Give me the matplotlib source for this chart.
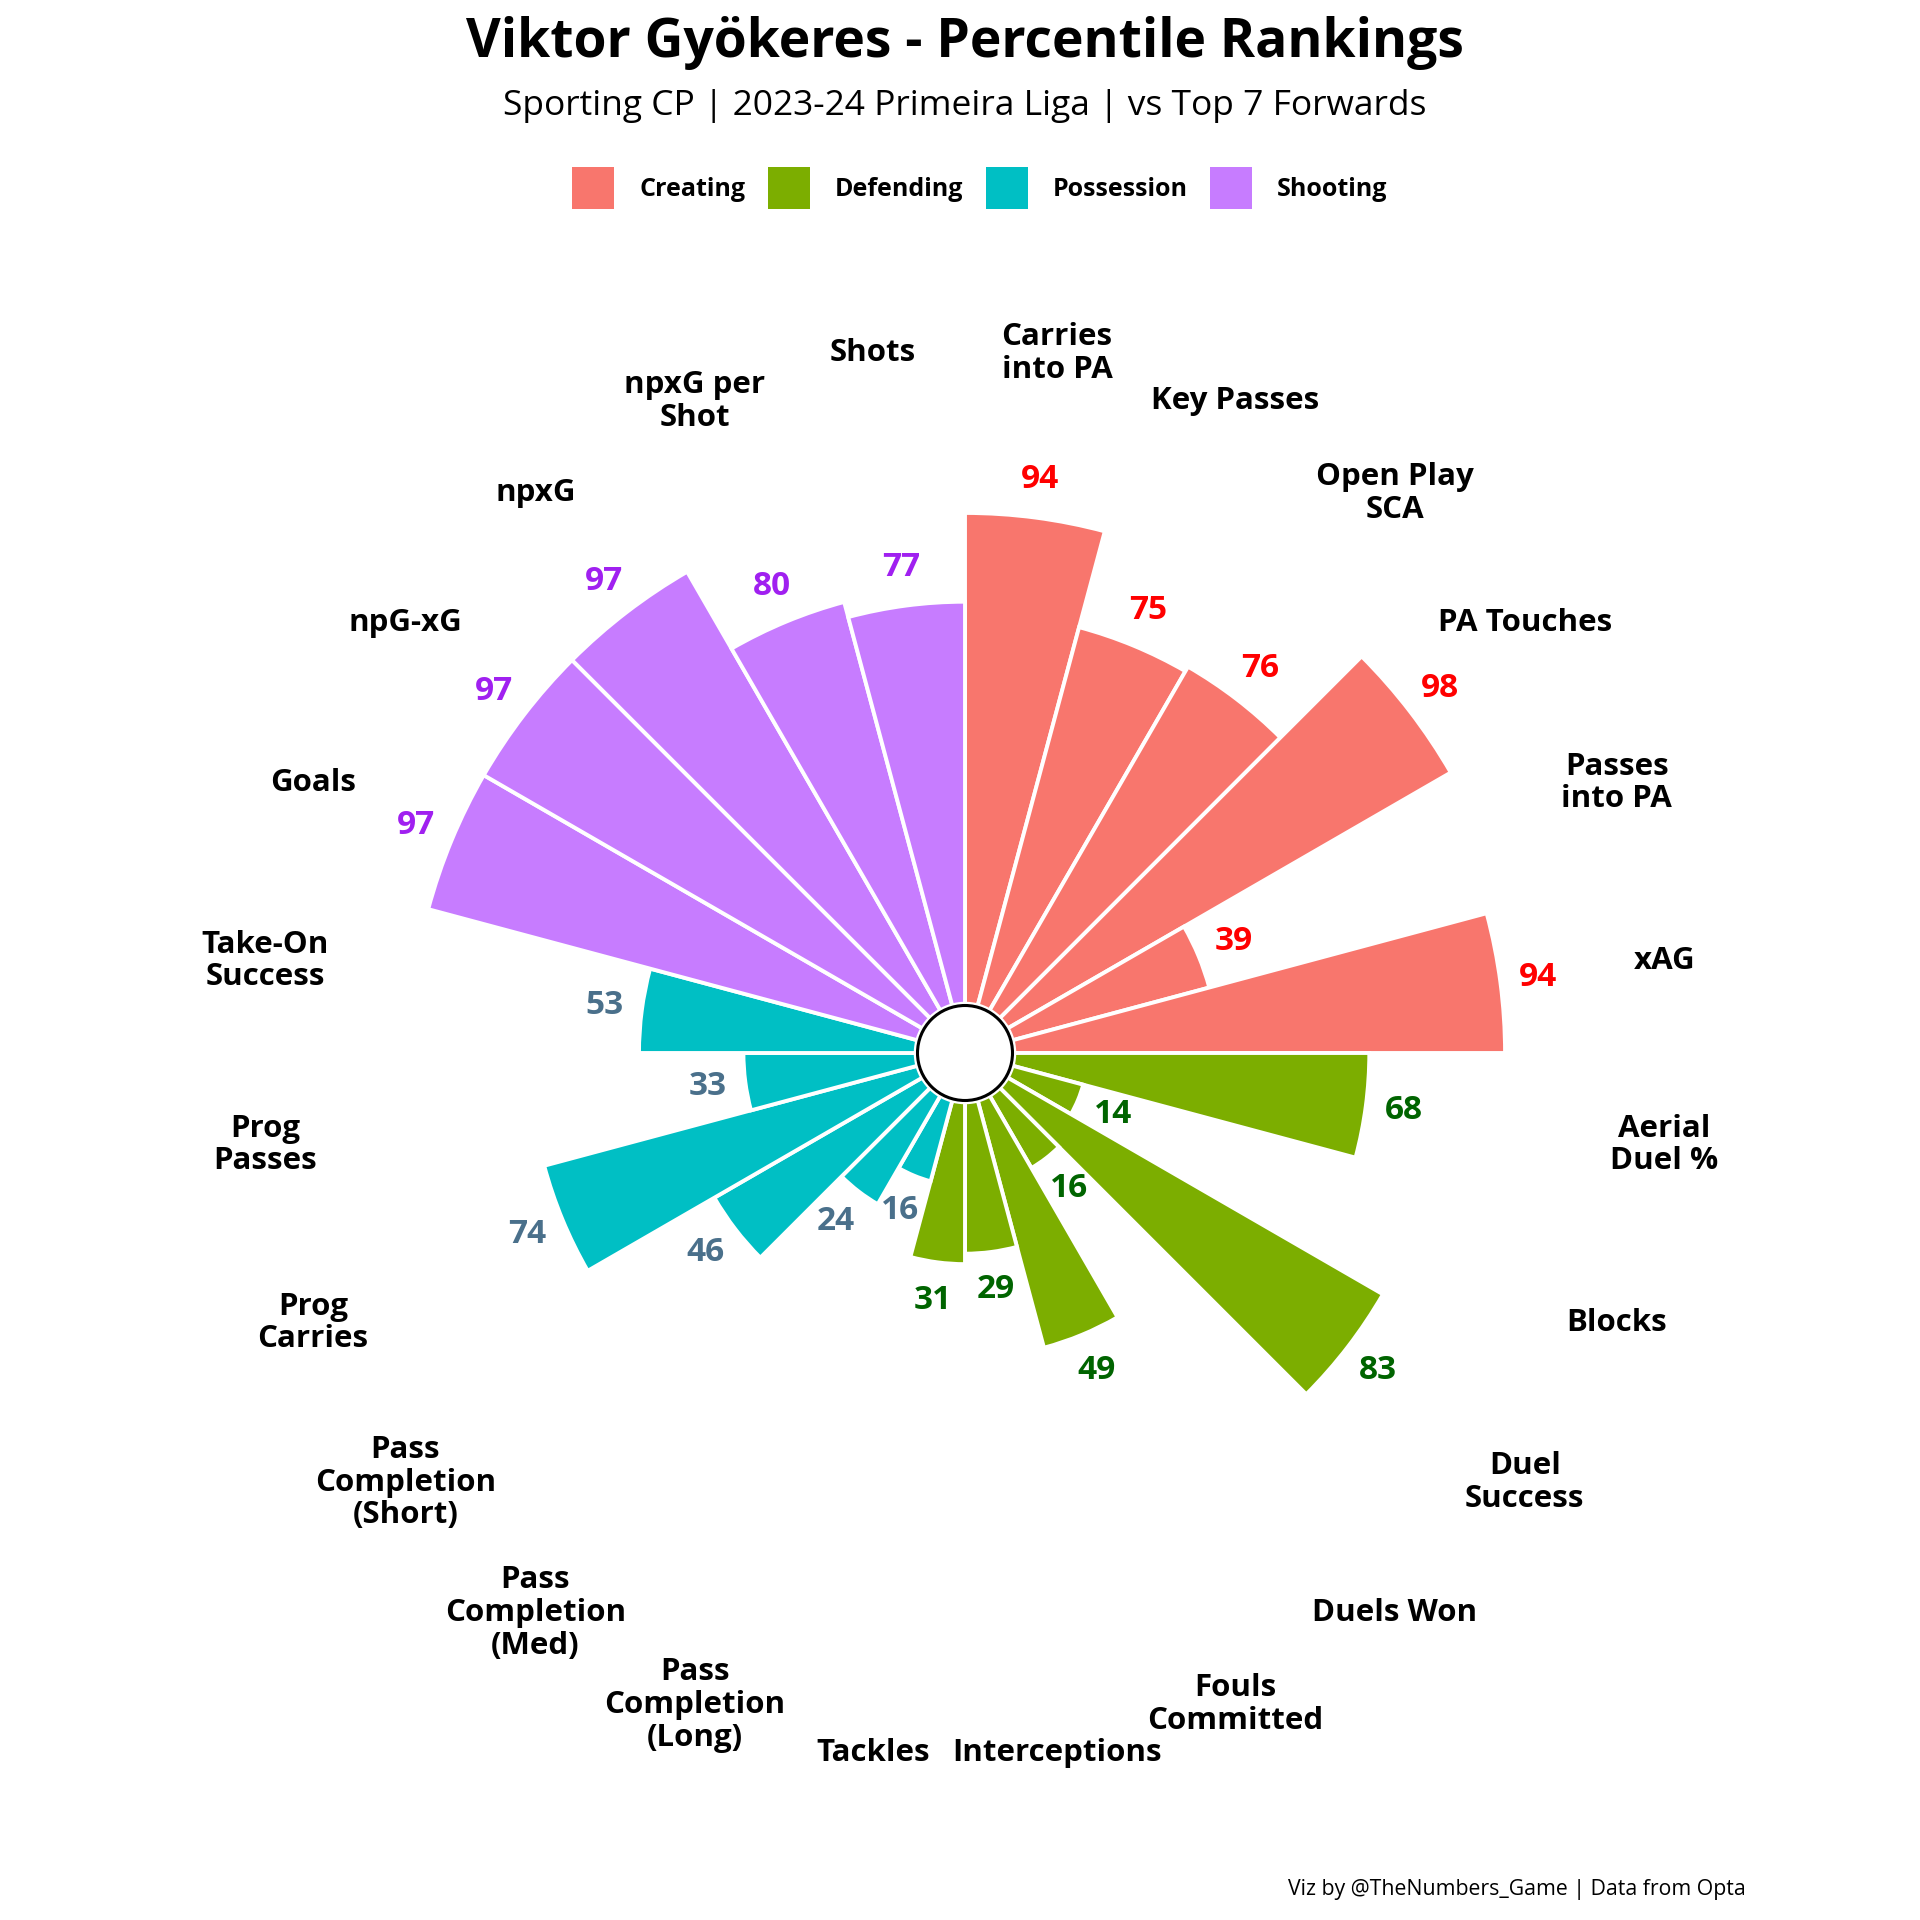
import numpy as np
import matplotlib
matplotlib.use("Agg")
import matplotlib.pyplot as plt
from matplotlib.patches import Patch, Circle
from matplotlib import font_manager as fm

# pick a family that really has a bold face
def pick_family():
    for fam in ["Noto Sans", "Open Sans", "Lato", "Roboto", "DejaVu Sans"]:
        try:
            f = fm.findfont(fm.FontProperties(family=fam, weight="bold"), fallback_to_default=False)
            if "bold" in f.lower() or "black" in f.lower():
                return fam
        except Exception:
            pass
    return "DejaVu Sans"

FAM = pick_family()
plt.rcParams['font.family'] = [FAM, 'DejaVu Sans']

# ---- data ----
labels = ["Carries\ninto PA", "Key Passes", "Open Play\nSCA", "PA Touches", "Passes\ninto PA", "xAG",
          "Aerial\nDuel %", "Blocks", "Duel\nSuccess", "Duels Won", "Fouls\nCommitted", "Interceptions", "Tackles",
          "Pass\nCompletion\n(Long)", "Pass\nCompletion\n(Med)", "Pass\nCompletion\n(Short)", "Prog\nCarries",
          "Prog\nPasses", "Take-On\nSuccess",
          "Goals", "npG-xG", "npxG", "npxG per\nShot", "Shots"]
values = [94, 75, 76, 98, 39, 94,
          68, 14, 83, 16, 49, 29, 31,
          16, 24, 46, 74, 33, 53,
          97, 97, 97, 80, 77]
groups = (["Creating"] * 6 + ["Defending"] * 7 + ["Possession"] * 6 + ["Shooting"] * 5)
group_names = ["Creating", "Defending", "Possession", "Shooting"]
bar_colors = ["#F8766D", "#7CAE00", "#00BFC4", "#C77CFF"]
text_colors = ["#FF0000", "#006400", "#4A708B", "#A020F0"]

title = "Viktor Gyökeres - Percentile Rankings"
subtitle = "Sporting CP | 2023-24 Primeira Liga | vs Top 7 Forwards"
caption = "Viz by @TheNumbers_Game | Data from Opta"

# ---- figure ----
W = 1920
fig = plt.figure(figsize=(19.2, 19.2), dpi=100)
fig.patch.set_facecolor("white")

cx, cy = 965, 1053          # centre in pixels (from top-left)
half = 728                  # axes half-size in pixels
ax = fig.add_axes([(cx - half) / W, (W - cy - half) / W, 2 * half / W, 2 * half / W],
                  projection="polar")
ax.set_theta_zero_location("N")
ax.set_theta_direction(-1)
ax.set_ylim(-2, 130)
ax.set_rorigin(-9.44)

n = len(values)
width = 2 * np.pi / n
theta = np.arange(n) * width + width / 2
cmap = dict(zip(group_names, bar_colors))
tmap = dict(zip(group_names, text_colors))

ax.bar(theta, values, width=width, bottom=0,
       color=[cmap[g] for g in groups], edgecolor="white", linewidth=2.8, zorder=2)

# centre circle (white disc with black outline)
ax.add_patch(Circle((0.5, 0.5), 47.5 / (2 * half), transform=ax.transAxes,
                    facecolor="white", edgecolor="black", linewidth=2.2, zorder=3,
                    clip_on=False))

for th, v, g, lab in zip(theta, values, groups, labels):
    ax.text(th, v + 7.3, str(v), ha="center", va="center", fontsize=24,
            fontweight="bold", color=tmap[g], zorder=4)
    ax.text(th, 125.7, lab, ha="center", va="center", fontsize=22.5,
            fontweight="bold", color="black", linespacing=1.12, zorder=4)

ax.grid(False)
ax.set_xticks([])
ax.set_yticks([])
for k in list(ax.spines.keys()):
    ax.spines[k].set_visible(False)
ax.set_facecolor("white")

# ---- titles ----
fig.text(cx / W, 1 - 57 / W, title, ha="center", va="baseline",
         fontsize=38.5, fontweight="bold", color="black")
fig.text(cx / W, 1 - 115 / W, subtitle, ha="center", va="baseline",
         fontsize=25.5, color="black")

handles = [Patch(facecolor=c, edgecolor="none", label=gname) for gname, c in zip(group_names, bar_colors)]
leg = fig.legend(handles=handles, loc="center", bbox_to_anchor=(980 / W, 1 - 188 / W),
                 ncol=4, frameon=False, handlelength=1.68, handleheight=2.21,
                 handletextpad=1.0, columnspacing=0.9,
                 prop={"family": FAM, "weight": "bold", "size": 18})

fig.text(1746 / W, 1 - 1895 / W, caption, ha="right", va="baseline",
         fontsize=15.3, color="black")

fig.savefig("out.png", dpi=100, facecolor="white")
